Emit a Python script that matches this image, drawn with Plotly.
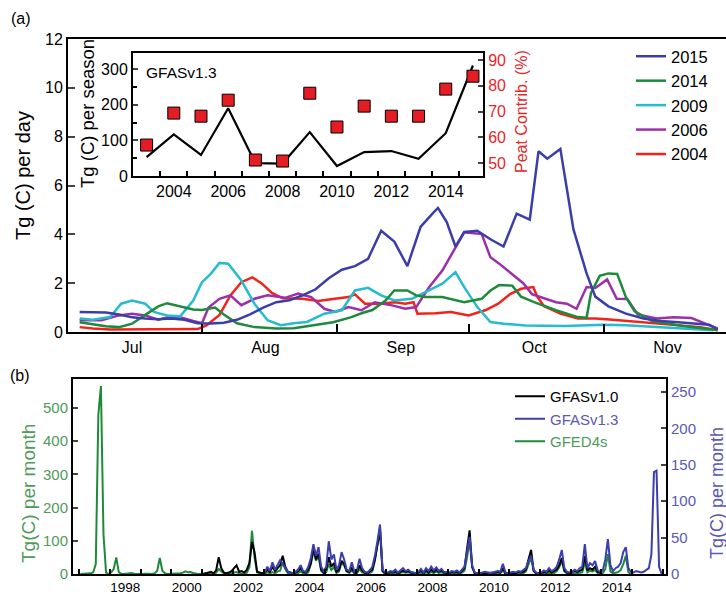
import plotly.graph_objects as go

# ---------------- Panel (a): daily emissions (days since 1 July) ----------------
day_2015 = [3, 6, 9, 12, 15, 18, 21, 24, 27, 30, 33, 36, 39, 42, 45, 48, 51, 54, 57, 60, 63, 66, 69, 72,
            75, 78, 81, 84, 85, 87, 89, 91, 94, 97, 100, 103, 106, 108, 110, 113, 116, 119, 121, 124,
            128, 132, 136, 140, 144, 147, 149]
tg_2015 = [0.82, 0.82, 0.80, 0.72, 0.60, 0.55, 0.52, 0.55, 0.50, 0.36, 0.35, 0.38, 0.50, 0.72, 1.00,
           1.22, 1.30, 1.50, 1.75, 2.20, 2.55, 2.70, 3.00, 4.15, 3.70, 2.70, 4.30, 4.90, 5.08, 4.50,
           3.50, 4.10, 4.15, 3.80, 3.50, 4.85, 4.60, 7.40, 7.10, 7.50, 4.20, 2.40, 1.45, 1.05, 0.75,
           0.55, 0.45, 0.40, 0.36, 0.30, 0.12]

day_2014 = [3, 6, 9, 12, 15, 18, 21, 23, 26, 29, 31, 34, 36, 39, 43, 48, 52, 57, 61, 65, 68, 70, 73,
            75, 78, 80, 82, 86, 91, 95, 97, 99, 102, 104, 107, 112, 117, 119, 120, 122, 124, 126, 128,
            130, 134, 141, 149]
tg_2014 = [0.40, 0.32, 0.24, 0.20, 0.34, 0.70, 1.05, 1.18, 1.05, 0.92, 0.90, 1.00, 0.72, 0.36, 0.20,
           0.14, 0.15, 0.30, 0.40, 0.60, 0.80, 0.90, 1.29, 1.70, 1.70, 1.50, 1.43, 1.43, 1.22, 1.36,
           1.70, 1.92, 1.90, 1.45, 1.22, 0.89, 0.61, 0.58, 1.60, 2.30, 2.40, 2.38, 1.43, 0.85, 0.45,
           0.25, 0.08]

day_2009 = [3, 6, 10, 12.5, 15, 18, 20, 23, 26, 29, 31, 33, 35, 37, 40, 43, 46, 49, 52, 55, 59, 63, 66,
            69, 72, 75, 79, 82, 86, 89, 91, 94, 97, 100, 105, 114, 123, 128, 136, 143, 148]
tg_2009 = [0.55, 0.50, 0.61, 1.16, 1.29, 1.16, 0.82, 0.68, 0.64, 1.29, 2.04, 2.38, 2.83, 2.80, 2.11,
           1.16, 0.48, 0.28, 0.36, 0.41, 0.75, 0.89, 1.70, 1.81, 1.50, 1.29, 1.36, 1.63, 1.98, 2.45,
           1.84, 1.02, 0.41, 0.34, 0.27, 0.25, 0.30, 0.28, 0.20, 0.14, 0.07]

day_2006 = [3, 8, 12, 15, 18, 21, 23, 26, 29, 31, 32.5, 35, 37.5, 40, 43, 46, 50, 53, 56, 59, 61.5,
            64.5, 67.5, 70.5, 74.5, 77.5, 80, 83, 86, 89, 91, 95, 97, 99, 102, 104.5, 106.5, 108.5,
            112, 114.5, 116.7, 119, 121, 123.7, 125.9, 128.3, 130.7, 135, 139, 143, 146, 149]
tg_2006 = [0.48, 0.48, 0.68, 0.75, 0.68, 0.50, 0.59, 0.60, 0.45, 0.36, 1.00, 1.36, 1.50, 1.10, 1.36,
           1.50, 1.40, 1.57, 1.43, 0.95, 0.82, 1.02, 0.89, 1.22, 1.09, 0.95, 1.02, 1.84, 2.52, 3.47,
           4.08, 4.01, 3.06, 2.80, 2.38, 2.00, 1.55, 1.43, 1.22, 1.16, 0.95, 1.84, 1.80, 2.15, 1.36,
           1.35, 0.72, 0.55, 0.60, 0.57, 0.34, 0.14]

day_2004 = [3, 6, 10, 15, 20, 25, 30, 32, 35, 37.5, 40, 42.5, 44.6, 47, 49.5, 54, 57.6, 61.4, 64.5,
            66, 68.3, 71.4, 75.2, 77.5, 79.4, 80.3, 84.4, 88, 92, 95.8, 98.8, 101.5, 104, 106.8,
            107.7, 109.3, 113, 117, 121, 125, 129.5, 137, 145, 149]
tg_2004 = [0.20, 0.14, 0.10, 0.10, 0.10, 0.10, 0.12, 0.27, 0.70, 1.50, 2.04, 2.24, 2.00, 1.60, 1.38,
           1.36, 1.27, 1.36, 1.43, 1.54, 1.16, 1.16, 1.22, 1.16, 1.22, 0.75, 0.77, 0.82, 0.68, 0.89,
           1.16, 1.55, 1.77, 1.84, 1.45, 1.05, 0.75, 0.55, 0.55, 0.50, 0.43, 0.34, 0.20, 0.07]

month_labels = ["Jul", "Aug", "Sep", "Oct", "Nov"]
month_mid_days = [15, 45.5, 76.5, 107, 137.5]
month_start_days = [31, 62, 92, 123]

# ---------------- Inset: seasonal totals and peat contribution ----------------
inset_years = list(range(2003, 2016))
season_tg = [53, 117, 59, 190, 36, 35, 123, 28, 67, 70, 48, 120, 310]
peat_pct = [57.0, 69.4, 68.2, 74.4, 51.2, 50.8, 77.1, 64.0, 72.1, 68.2, 68.2, 78.7, 83.7]

# ---------------- Panel (b): monthly emissions ----------------
gfed_years = list(range(1997, 2015))
gfed4s = [
    [0, 0, 0, 0, 2, 5, 30, 480, 566, 120, 5, 0],      # 1997
    [5, 15, 50, 5, 1, 0, 1, 2, 3, 1, 0, 0],           # 1998
    [0, 1, 2, 1, 0, 2, 10, 48, 10, 2, 0, 0],          # 1999
    [0, 1, 0, 2, 4, 8, 5, 6, 3, 1, 0, 0],             # 2000
    [0, 1, 2, 3, 1, 4, 15, 8, 3, 1, 0, 2],            # 2001
    [3, 6, 2, 2, 1, 4, 20, 130, 50, 5, 1, 0],         # 2002
    [1, 5, 2, 6, 2, 8, 10, 35, 15, 3, 1, 0],          # 2003
    [1, 3, 8, 2, 1, 5, 30, 70, 40, 55, 10, 2],        # 2004
    [5, 30, 12, 20, 3, 8, 35, 25, 8, 3, 10, 2],       # 2005
    [2, 15, 5, 2, 1, 3, 8, 40, 90, 140, 8, 1],        # 2006
    [1, 3, 2, 4, 1, 3, 6, 4, 5, 3, 1, 1],             # 2007
    [1, 4, 1, 5, 2, 6, 3, 7, 3, 5, 2, 1],             # 2008
    [1, 2, 2, 3, 1, 4, 10, 50, 100, 20, 2, 1],        # 2009
    [1, 1, 2, 1, 1, 1, 2, 3, 3, 10, 1, 1],            # 2010
    [1, 1, 1, 2, 1, 3, 8, 30, 50, 8, 1, 1],           # 2011
    [1, 2, 2, 4, 2, 3, 8, 20, 40, 8, 2, 1],           # 2012
    [1, 3, 2, 4, 5, 35, 5, 10, 8, 12, 3, 1],          # 2013
    [2, 15, 60, 8, 2, 4, 6, 12, 30, 55, 5, 1],        # 2014
]

gfas10_years = list(range(2001, 2014))
gfas_v10 = [
    [0, 1, 2, 3, 1, 5, 23, 8, 2, 1, 2, 4],            # 2001
    [8, 12, 3, 4, 2, 6, 15, 44, 30, 3, 2, 1],         # 2002
    [2, 6, 3, 10, 4, 8, 12, 25, 10, 3, 2, 1],         # 2003
    [2, 4, 8, 3, 2, 6, 15, 36, 20, 28, 6, 2],         # 2004
    [6, 23, 10, 15, 3, 6, 18, 14, 4, 3, 8, 2],        # 2005
    [3, 12, 5, 2, 1, 3, 6, 20, 40, 60, 4, 1],         # 2006
    [1, 3, 2, 4, 1, 3, 5, 3, 4, 2, 1, 1],             # 2007
    [2, 5, 1, 5, 2, 6, 3, 6, 3, 5, 2, 1],             # 2008
    [1, 3, 2, 3, 1, 4, 8, 35, 60, 10, 1, 1],          # 2009
    [1, 1, 2, 1, 1, 1, 2, 3, 2, 8, 1, 1],             # 2010
    [1, 2, 1, 3, 2, 3, 6, 20, 33, 5, 1, 1],           # 2011
    [1, 3, 2, 5, 2, 4, 6, 12, 22, 5, 2, 1],           # 2012
    [2, 4, 3, 5, 6, 25, 5, 8, 6, 10, 3, 2],           # 2013
]

gfas13_years = list(range(2003, 2016))
gfas_v13 = [
    [2, 10, 4, 16, 6, 12, 19, 14, 8, 3, 1, 1],        # 2003
    [3, 6, 12, 4, 3, 10, 22, 41, 25, 37, 10, 4],      # 2004
    [10, 45, 20, 27, 6, 12, 30, 20, 6, 4, 16, 3],     # 2005
    [5, 21, 8, 3, 2, 5, 10, 25, 45, 68, 6, 2],        # 2006
    [2, 4, 3, 6, 2, 5, 8, 4, 6, 3, 2, 1],             # 2007
    [3, 7, 2, 8, 4, 10, 5, 9, 4, 7, 3, 2],            # 2008
    [2, 4, 3, 5, 2, 6, 10, 30, 51, 12, 2, 1],         # 2009
    [1, 2, 3, 2, 1, 2, 3, 4, 3, 14, 2, 1],            # 2010
    [2, 3, 2, 4, 3, 5, 8, 18, 25, 6, 2, 1],           # 2011
    [2, 5, 3, 8, 4, 6, 10, 20, 33, 8, 3, 2],          # 2012
    [3, 6, 4, 8, 10, 41, 8, 15, 12, 18, 5, 3],        # 2013
    [5, 20, 48, 12, 4, 8, 10, 15, 30, 37, 8, 3],      # 2014
    [2, 4, 3, 2, 3, 5, 8, 27, 140, 142, 10, 0],       # 2015
]

b_tick_years = list(range(1998, 2016, 2))


def month_times(years):
    return [y + (m + 0.5) / 12 for y in years for m in range(12)]


def flat(rows):
    return [v for r in rows for v in r]


W, H = 726, 595


def px(x):
    return x / W


def py(y):
    return 1 - y / H


REG = "Liberation Sans, Arial, sans-serif"

C2015, C2014, C2009, C2006, C2004 = "#3c3ea8", "#1f8a3c", "#25bccd", "#9d2fab", "#f2231a"
CBLUE, CGREEN = "#3c3eb0", "#1f8a3c"
AX_GREEN, AX_BLUE, AX_RED = "#4f9b57", "#5b58b8", "#e8262a"

fig = go.Figure()

# panel (a) lines (2004 drawn first so 2015 sits on top)
for name, d, v, c, rank in [("2004", day_2004, tg_2004, C2004, 5),
                            ("2006", day_2006, tg_2006, C2006, 4),
                            ("2009", day_2009, tg_2009, C2009, 3),
                            ("2014", day_2014, tg_2014, C2014, 2),
                            ("2015", day_2015, tg_2015, C2015, 1)]:
    fig.add_trace(go.Scatter(x=d, y=v, mode="lines", name=name, line=dict(color=c, width=2.5),
                             xaxis="x", yaxis="y", legend="legend", legendrank=rank))

# inset
fig.add_trace(go.Scatter(x=inset_years, y=season_tg, mode="lines", line=dict(color="black", width=2.2),
                         xaxis="x2", yaxis="y2", showlegend=False))
fig.add_trace(go.Scatter(x=inset_years, y=peat_pct, mode="markers",
                         marker=dict(symbol="square", size=12, color="#e31d23",
                                     line=dict(color="black", width=1)),
                         xaxis="x2", yaxis="y3", showlegend=False))

# panel (b)
fig.add_trace(go.Scatter(x=month_times(gfed_years), y=flat(gfed4s), mode="lines",
                         name='<span style="color:%s">GFED4s</span>' % AX_GREEN,
                         line=dict(color=CGREEN, width=2), xaxis="x3", yaxis="y4",
                         legend="legend2", legendrank=3))
fig.add_trace(go.Scatter(x=month_times(gfas10_years), y=flat(gfas_v10), mode="lines",
                         name="GFASv1.0", line=dict(color="black", width=2), xaxis="x3", yaxis="y5",
                         legend="legend2", legendrank=1))
fig.add_trace(go.Scatter(x=month_times(gfas13_years), y=flat(gfas_v13), mode="lines",
                         name='<span style="color:%s">GFASv1.3</span>' % AX_BLUE,
                         line=dict(color=CBLUE, width=2), xaxis="x3", yaxis="y5",
                         legend="legend2", legendrank=2))

axline = dict(showline=True, linecolor="black", showgrid=False, zeroline=False)

fig.update_layout(
    width=W, height=H, margin=dict(l=0, r=0, t=0, b=0, autoexpand=False),
    paper_bgcolor="white", plot_bgcolor="rgba(0,0,0,0)",
    font=dict(family=REG, color="black"),
    xaxis=dict(domain=[px(68), 1.0], anchor="y", range=[0.34, 150.9], **axline, linewidth=2,
               mirror=True, tickvals=month_mid_days, ticktext=month_labels, ticks="",
               tickfont=dict(size=16),
               minor=dict(tickvals=month_start_days, ticks="inside", ticklen=8, tickwidth=1.5,
                          tickcolor="black")),
    yaxis=dict(domain=[py(332), py(39)], anchor="x", range=[0, 12], dtick=2, **axline, linewidth=2,
               ticks="inside", ticklen=7, tickwidth=1.5, tickfont=dict(size=16)),
    xaxis2=dict(domain=[px(133), px(483)], anchor="y2", range=[2002.5, 2015.37], **axline,
                linewidth=2, mirror=True, tickvals=list(range(2004, 2015, 2)), ticks="",
                tickfont=dict(size=16),
                minor=dict(tickvals=[y + 0.5 for y in range(2003, 2015)], ticks="inside",
                           ticklen=5, tickwidth=1.5, tickcolor="black")),
    yaxis2=dict(domain=[py(176), py(53)], anchor="x2", range=[0, 345], **axline, linewidth=2,
                tickvals=[0, 100, 200, 300], ticks="inside", ticklen=5, tickwidth=1.5,
                tickfont=dict(size=16),
                minor=dict(tickvals=[50, 150, 250], ticks="inside", ticklen=4, tickwidth=1.5,
                           tickcolor="black")),
    yaxis3=dict(overlaying="y2", side="right", anchor="x2", range=[45, 92.7], **axline,
                linewidth=2, tickvals=[50, 60, 70, 80, 90], ticks="inside", ticklen=5,
                tickwidth=1.5, tickfont=dict(size=16, color=AX_RED)),
    xaxis3=dict(domain=[px(73), px(666)], anchor="y4", range=[1996.8, 2016.1], **axline,
                linewidth=2, mirror=True, tickvals=[y + 0.5 for y in b_tick_years],
                ticktext=[str(y) for y in b_tick_years], ticks="",
                tickfont=dict(size=13.5),
                minor=dict(tickvals=list(range(1997, 2017)), ticks="inside", ticklen=5,
                           tickwidth=1.5, tickcolor="black")),
    yaxis4=dict(domain=[py(574), py(379)], anchor="x3", range=[0, 587], **axline, linewidth=2,
                tickvals=[0, 100, 200, 300, 400, 500], ticks="inside", ticklen=5, tickwidth=1.5,
                tickfont=dict(size=15, color=AX_GREEN)),
    yaxis5=dict(overlaying="y4", side="right", anchor="x3", range=[0, 268], **axline,
                linewidth=2, tickvals=[0, 50, 100, 150, 200, 250], ticks="inside", ticklen=5,
                tickwidth=1.5, tickfont=dict(size=15, color=AX_BLUE)),
    legend=dict(x=px(631), y=py(39), xanchor="left", yanchor="top", bgcolor="rgba(0,0,0,0)",
                font=dict(size=16.5), tracegroupgap=0),
    legend2=dict(x=px(510), y=py(380), xanchor="left", yanchor="top", bgcolor="rgba(0,0,0,0)",
                 font=dict(size=15), tracegroupgap=0),
    showlegend=True,
)

ann = [
    dict(text="(a)", x=px(21), y=py(18), font=dict(size=16)),
    dict(text="(b)", x=px(20), y=py(375), font=dict(size=16)),
    dict(text="Tg (C) per day", x=px(23), y=py(176), textangle=-90, font=dict(size=20)),
    dict(text="Tg (C) per season", x=px(88), y=py(114), textangle=-90, font=dict(size=18.5)),
    dict(text="Peat Contrib. (%)", x=px(521), y=py(112), textangle=-90,
         font=dict(size=16, color=AX_RED)),
    dict(text="GFASv1.3", x=px(144), y=py(72), xanchor="left", font=dict(size=15.5)),
    dict(text="Tg(C) per month", x=px(28), y=py(494), textangle=-90,
         font=dict(size=19, color=AX_GREEN)),
    dict(text="Tg(C) per month", x=px(717), y=py(493), textangle=-90,
         font=dict(size=18, color=AX_BLUE)),
]
for a in ann:
    a.setdefault("xanchor", "center")
    fig.add_annotation(xref="paper", yref="paper", yanchor="middle", showarrow=False, **a)

fig.write_html("out.html", config={"displayModeBar": False},
               post_script="document.body.style.margin='0';document.body.style.overflow='hidden';")
